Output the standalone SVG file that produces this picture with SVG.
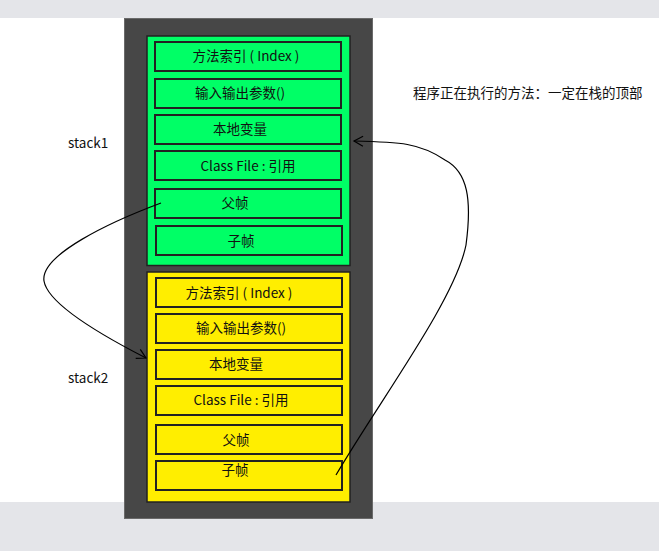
<svg xmlns="http://www.w3.org/2000/svg" width="659" height="551" viewBox="0 0 659 551">
<style>
text{font-family:"Noto Sans CJK SC","Noto Sans",sans-serif;font-size:13.5px;fill:#111}
.c{text-anchor:middle}
.ib{stroke:#222;stroke-width:2}
.g{fill:#00ff66}
.y{fill:#ffee00}
.con{fill:none;stroke:#000;stroke-width:1.2}
</style>
<defs>
<marker id="ah" markerWidth="12" markerHeight="12" refX="10" refY="6" orient="auto" markerUnits="userSpaceOnUse">
<path d="M1,1 L10,6 L1,11" fill="none" stroke="#000" stroke-width="1.2"/>
</marker>
</defs>
<rect x="0" y="0" width="659" height="551" fill="#e4e5e9"/>
<rect x="0" y="18" width="659" height="484" fill="#fff"/>
<rect id="frame" x="124.5" y="18.5" width="248" height="500" fill="#474747" stroke="#6a6a6a" stroke-width="1"/>
<g id="stack1">
<rect x="147" y="36" width="203" height="229.5" class="g" stroke="#222" stroke-width="1.5"/>
<g id="s1-index"><rect x="155" y="42" width="186" height="29" class="g ib"/><text x="246" y="61" class="c">方法索引 ( Index )</text></g>
<g id="s1-params"><rect x="155" y="79" width="186" height="29" class="g ib"/><text x="240" y="98" class="c">输入输出参数()</text></g>
<g id="s1-locals"><rect x="155" y="115" width="186" height="29" class="g ib"/><text x="240" y="134" class="c">本地变量</text></g>
<g id="s1-class"><rect x="155" y="151" width="186" height="29" class="g ib"/><text x="248" y="171" class="c">Class File : 引用</text></g>
<g id="s1-parent"><rect x="155" y="189" width="186" height="29" class="g ib"/><text x="235" y="208" class="c">父帧</text></g>
<g id="s1-child"><rect x="156" y="226" width="186" height="29" class="g ib"/><text x="241" y="246" class="c">子帧</text></g>
</g>
<g id="stack2">
<rect x="147" y="272" width="203" height="230" class="y" stroke="#222" stroke-width="1.5"/>
<g id="s2-index"><rect x="156" y="278" width="186" height="29" class="y ib"/><text x="239" y="298" class="c">方法索引 ( Index )</text></g>
<g id="s2-params"><rect x="156" y="314" width="186" height="29" class="y ib"/><text x="241" y="333" class="c">输入输出参数()</text></g>
<g id="s2-locals"><rect x="156" y="350" width="186" height="29" class="y ib"/><text x="236" y="369" class="c">本地变量</text></g>
<g id="s2-class"><rect x="156" y="386" width="186" height="29" class="y ib"/><text x="241" y="405" class="c">Class File : 引用</text></g>
<g id="s2-parent"><rect x="156" y="425" width="186" height="29" class="y ib"/><text x="236" y="445" class="c">父帧</text></g>
<g id="s2-child"><rect x="156" y="461" width="186" height="29" class="y ib"/><text x="235" y="475" class="c">子帧</text></g>
</g>
<g id="labels">
<text x="68" y="148">stack1</text>
<text x="68" y="383">stack2</text>
<text x="413" y="98">程序正在执行的方法：一定在栈的顶部</text>
</g>
<g id="connectors">
<path class="con" d="M161,203 C110,222 40,255 44,281 C48,305 105,337 146,358" marker-end="url(#ah)"/>
<path class="con" d="M336,475 C380,400 455,300 466,245 C472,200 468,172 445,160 C420,143 400,142 354,141" marker-end="url(#ah)"/>
</g>
</svg>
